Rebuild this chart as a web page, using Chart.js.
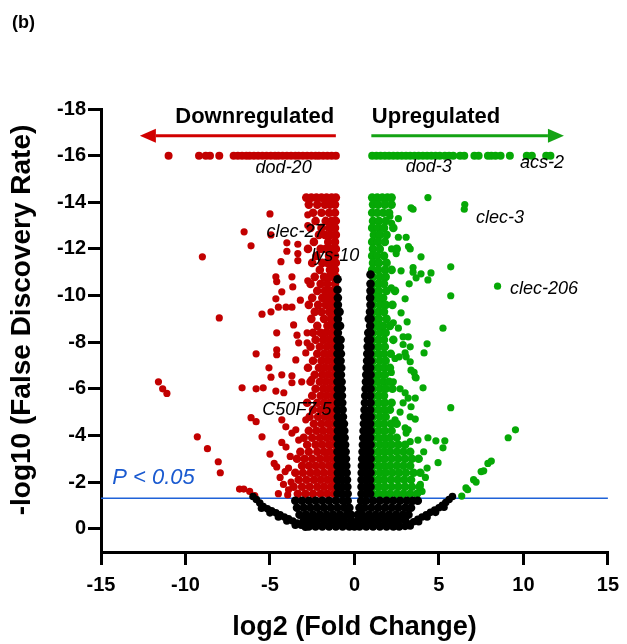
<!DOCTYPE html>
<html>
<head>
<meta charset="utf-8">
<title>Volcano plot</title>
<script src="https://cdn.jsdelivr.net/npm/chart.js"></script>
<style>
  html, body { margin: 0; padding: 0; background: #fff; }
</style>
</head>
<body>
<canvas id="volcano" width="627" height="644"></canvas>

<script>
// axis ticks
var xTicks = [-15, -10, -5, 0, 5, 10, 15];
var yTicks = [0, 2, 4, 6, 8, 10, 12, 14, 16, 18];
var fdrCutoff = 1.3; // -log10(0.05)

// genes capped at the top of the scale (y = 16)
var capY = 16;
var redCapX = [-11.0, -9.2, -8.8, -8.55, -8.0, -7.15, -6.9, -6.65, -6.4, -6.2, -5.95, -5.7, -5.45, -5.2, -4.95,
  -4.7, -4.5, -4.25, -4.0, -3.75, -3.5, -3.3, -3.05, -2.8, -2.55, -2.3, -2.1, -1.85, -1.6, -1.35, -1.1];
var greenCapX = [1.05, 1.3, 1.55, 1.8, 2.05, 2.3, 2.55, 2.8, 3.05, 3.3, 3.55, 3.8, 4.05, 4.3, 4.55, 4.8, 5.05,
  5.35, 5.6, 5.85, 6.25, 6.5, 7.1, 7.35, 7.9, 8.1, 8.35, 8.65, 9.2, 10.2, 10.5, 11.35, 11.6];

// dense part of downregulated genes: [y, [x...]]
var redRows = [
  [14.2, [-2.85, -2.55, -2.25, -1.95, -1.65, -1.35, -1.1]],
  [13.9, [-2.7, -2.2, -1.75, -1.45, -1.15]],
  [13.55, [-2.45, -1.95, -1.5, -1.15]],
  [13.2, [-2.3, -1.7, -1.35, -1.1]],
  [12.9, [-2.6, -1.95, -1.5, -1.15]],
  [12.6, [-2.1, -1.75, -1.4, -1.1]],
  [12.3, [-2.4, -1.55, -1.15]],
  [12.0, [-2.75, -2.0, -1.7, -1.35, -1.1]],
  [11.7, [-2.25, -1.5, -1.15]],
  [11.4, [-2.5, -1.9, -1.6, -1.3, -1.1]],
  [11.1, [-2.05, -1.45, -1.15]],
  [10.8, [-2.35, -1.8, -1.5, -1.25, -1.1]],
  [10.5, [-2.6, -2.0, -1.6, -1.15]],
  [10.2, [-2.2, -1.75, -1.4, -1.1]],
  [9.9, [-2.5, -1.9, -1.55, -1.2]],
  [9.6, [-2.7, -2.15, -1.7, -1.35, -1.1]],
  [9.3, [-2.35, -1.95, -1.5, -1.15]],
  [9.0, [-2.55, -1.8, -1.4, -1.1]],
  [8.7, [-2.2, -1.6, -1.25]],
  [8.4, [-2.45, -2.0, -1.7, -1.35, -1.1]],
  [8.1, [-2.3, -1.85, -1.5, -1.15]],
  [7.8, [-2.6, -2.05, -1.65, -1.3, -1.1]],
  [7.5, [-2.2, -1.8, -1.45, -1.15]],
  [7.2, [-2.45, -1.95, -1.6, -1.25, -1.1]],
  [6.9, [-2.75, -2.1, -1.75, -1.4, -1.1]],
  [6.6, [-2.35, -1.9, -1.55, -1.2]],
  [6.3, [-2.6, -2.05, -1.7, -1.35, -1.1]],
  [6.0, [-2.3, -1.85, -1.5, -1.15]],
  [5.7, [-2.5, -2.0, -1.65, -1.3, -1.1]],
  [5.4, [-2.8, -2.2, -1.8, -1.45, -1.15]],
  [5.1, [-2.45, -2.0, -1.6, -1.25, -1.1]],
  [4.8, [-2.65, -2.15, -1.75, -1.4, -1.1]],
  [4.5, [-2.4, -1.95, -1.55, -1.2]],
  [4.2, [-2.7, -2.25, -1.85, -1.45, -1.1]],
  [3.9, [-3.0, -2.5, -2.05, -1.65, -1.3, -1.1]],
  [3.6, [-2.8, -2.3, -1.9, -1.5, -1.15]],
  [3.3, [-3.2, -2.7, -2.2, -1.8, -1.45, -1.1]],
  [3.0, [-3.4, -2.95, -2.5, -2.05, -1.65, -1.3, -1.1]],
  [2.7, [-3.1, -2.7, -2.3, -1.9, -1.5, -1.15]],
  [2.4, [-3.5, -3.05, -2.6, -2.2, -1.8, -1.4, -1.1]],
  [2.1, [-3.3, -2.85, -2.4, -2.0, -1.6, -1.25]],
  [1.8, [-3.6, -3.1, -2.65, -2.2, -1.8, -1.4, -1.1]],
  [1.5, [-3.35, -2.9, -2.45, -2.0, -1.6, -1.2]]
];

// scattered downregulated genes: [x, y]
var redScatter = [
  [-5.0, 13.5], [-6.53, 12.73], [-6.12, 12.13], [-9.0, 11.66], [-4.94, 12.6], [-4.0, 12.26], [-3.35, 12.2],
  [-4.0, 11.9], [-3.35, 11.8], [-4.35, 11.45], [-3.35, 11.5], [-2.76, 13.46], [-2.76, 13.0], [-4.65, 10.8],
  [-4.6, 10.6], [-3.7, 10.8], [-3.65, 10.37], [-2.76, 10.63], [-4.3, 10.16], [-4.65, 9.86], [-3.2, 9.8],
  [-3.7, 9.5], [-4.5, 9.5], [-4.05, 9.5], [-5.47, 9.2], [-4.94, 9.3], [-8.0, 9.04], [-3.6, 8.74], [-4.6, 8.4],
  [-3.4, 8.3], [-2.8, 8.4], [-3.3, 7.97], [-2.8, 7.97], [-4.6, 7.67], [-4.6, 7.46], [-5.82, 7.5], [-3.47, 7.24],
  [-2.88, 7.54], [-5.06, 6.9], [-4.3, 6.6], [-3.7, 6.56], [-4.94, 6.5], [-3.12, 6.3], [-3.7, 6.26], [-6.65, 6.04],
  [-5.82, 6.0], [-5.4, 6.04], [-4.65, 5.9], [-4.18, 5.83], [-11.6, 6.3], [-11.35, 6.0], [-11.1, 5.8],
  [-6.12, 4.76], [-5.82, 4.59], [-4.3, 4.67], [-4.06, 4.37], [-5.47, 3.94], [-9.3, 3.94], [-8.7, 3.43],
  [-3.7, 4.1], [-3.47, 4.24], [-3.3, 3.8], [-2.88, 4.67], [-2.53, 6.4], [-8.06, 2.87], [-7.94, 2.4],
  [-6.8, 1.7], [-6.55, 1.7], [-6.2, 1.6], [-5.9, 1.42], [-5.0, 3.2], [-4.75, 2.8], [-4.6, 2.65], [-4.3, 3.7],
  [-4.05, 3.5], [-3.9, 1.67], [-4.4, 2.2], [-4.2, 1.9], [-3.9, 2.6], [-3.8, 3.1], [-4.5, 1.5], [-3.95, 1.45],
  [-4.1, 2.45], [-3.75, 2.0]
];

// dense part of upregulated genes: [y, [x...]]
var greenRows = [
  [14.2, [1.05, 1.35, 1.65, 1.95, 2.2]],
  [13.9, [1.1, 1.4, 1.8, 2.2]],
  [13.55, [1.05, 1.35, 1.7, 2.05]],
  [13.2, [1.1, 1.45, 1.85]],
  [12.9, [1.05, 1.4, 1.75, 2.3]],
  [12.6, [1.15, 1.5, 1.9]],
  [12.3, [1.05, 1.4, 1.8]],
  [12.0, [1.1, 1.5, 2.5]],
  [11.7, [1.05, 1.35, 1.75]],
  [11.4, [1.1, 1.45, 1.9]],
  [11.1, [1.05, 1.4, 1.8, 2.2]],
  [10.8, [1.1, 1.5, 1.85]],
  [10.5, [1.05, 1.4, 1.75]],
  [10.2, [1.1, 1.45, 1.9, 2.4]],
  [9.9, [1.05, 1.35, 1.7]],
  [9.6, [1.1, 1.5, 1.85, 2.25]],
  [9.3, [1.05, 1.4, 1.75]],
  [9.0, [1.1, 1.45, 1.9]],
  [8.7, [1.05, 1.35, 1.7, 2.1]],
  [8.4, [1.1, 1.5, 1.85]],
  [8.1, [1.05, 1.4, 1.75, 2.3]],
  [7.8, [1.1, 1.45, 1.8]],
  [7.5, [1.05, 1.4, 1.75, 2.15]],
  [7.2, [1.1, 1.5, 1.85]],
  [6.9, [1.05, 1.4, 1.75, 2.1]],
  [6.6, [1.1, 1.45, 1.8]],
  [6.3, [1.05, 1.35, 1.7, 2.05]],
  [6.0, [1.1, 1.5, 1.85, 2.25]],
  [5.7, [1.05, 1.4, 1.75]],
  [5.4, [1.1, 1.45, 1.8, 2.2]],
  [5.1, [1.05, 1.4, 1.75, 2.1]],
  [4.8, [1.1, 1.5, 1.85]],
  [4.5, [1.05, 1.4, 1.75, 2.15, 2.5]],
  [4.2, [1.1, 1.45, 1.8, 2.2]],
  [3.9, [1.05, 1.4, 1.75, 2.1, 2.5]],
  [3.6, [1.1, 1.5, 1.85, 2.2, 2.6, 3.0]],
  [3.3, [1.05, 1.4, 1.75, 2.1, 2.5, 2.9, 3.3]],
  [3.0, [1.1, 1.45, 1.8, 2.2, 2.6, 3.0, 3.4, 3.8]],
  [2.7, [1.05, 1.4, 1.75, 2.1, 2.5, 2.9, 3.3]],
  [2.4, [1.1, 1.5, 1.85, 2.25, 2.65, 3.05, 3.5, 3.9]],
  [2.1, [1.05, 1.4, 1.75, 2.15, 2.55, 2.95, 3.35]],
  [1.8, [1.1, 1.45, 1.8, 2.2, 2.6, 3.0, 3.4, 3.85]],
  [1.5, [1.05, 1.4, 1.75, 2.1, 2.5, 2.9, 3.3, 3.7]]
];

// scattered upregulated genes: [x, y]
var greenScatter = [
  [3.35, 13.76], [4.35, 14.2], [6.53, 13.9], [6.5, 13.7], [3.47, 13.7], [2.6, 13.3], [2.1, 13.4], [2.2, 13.1],
  [2.6, 12.5], [3.06, 12.5], [3.2, 12.1], [3.3, 12.0], [2.2, 12.0], [2.47, 11.8], [3.94, 11.66], [2.76, 11.06],
  [3.47, 11.2], [3.47, 11.0], [3.94, 10.93], [4.53, 10.97], [4.35, 10.67], [3.65, 10.76], [5.7, 11.23],
  [3.24, 10.5], [2.18, 10.33], [5.7, 9.99], [8.47, 10.4], [3.0, 9.86], [2.76, 9.26], [3.12, 8.87], [5.24, 8.6],
  [2.3, 8.83], [2.6, 8.6], [2.88, 8.23], [3.18, 8.23], [2.88, 7.9], [3.3, 7.8], [4.3, 7.93], [4.12, 7.54],
  [3.0, 7.54], [3.06, 7.37], [2.65, 7.37], [2.4, 7.3], [3.3, 7.16], [3.35, 6.8], [3.53, 6.7], [3.6, 6.5],
  [3.65, 6.47], [2.18, 6.7], [2.3, 6.3], [2.7, 6.0], [3.0, 5.83], [3.18, 5.6], [4.06, 6.04], [3.6, 5.6],
  [2.88, 5.4], [3.35, 5.23], [2.7, 5.0], [3.3, 4.8], [3.6, 4.7], [5.7, 5.19], [2.4, 4.67], [3.0, 4.33],
  [3.06, 4.1], [3.18, 4.24], [9.53, 4.24], [9.1, 3.9], [4.35, 3.9], [4.82, 3.77], [5.35, 3.77], [5.24, 3.47],
  [3.76, 3.8], [3.3, 3.73], [4.95, 2.83], [7.9, 2.8], [8.1, 2.9], [7.5, 2.45], [7.65, 2.48], [7.05, 2.1],
  [7.2, 2.0], [6.6, 1.75], [6.7, 1.67], [6.35, 1.4], [4.2, 2.2], [4.0, 1.6], [4.3, 2.6], [4.1, 3.3], [3.9, 1.9]
];

// not significant / small fold change genes: [y, [x...]]
var blackRows = [
  [10.9, [0.95]], [10.7, [-1.0]], [10.5, [0.95]], [10.25, [-1.0]], [10.2, [0.95]],
  [9.9, [-0.98, 0.93]], [9.6, [-0.98, 0.95]], [9.3, [-0.97, -0.88, 0.92]], [9.0, [-0.98, 0.85, 0.95]],
  [8.7, [-1.0, -0.85, 0.93]], [8.4, [-0.98, 0.82, 0.95]], [8.1, [-1.0, -0.82, 0.8, 0.93]],
  [7.8, [-0.98, -0.85, 0.78, 0.95]], [7.5, [-1.0, -0.8, 0.76, 0.93]], [7.2, [-0.98, -0.82, 0.75, 0.95]],
  [6.9, [-1.0, -0.78, 0.72, 0.93]], [6.6, [-0.98, -0.8, 0.7, 0.95]], [6.3, [-1.0, -0.76, 0.68, 0.93]],
  [6.0, [-0.98, -0.75, 0.66, 0.95]], [5.7, [-1.0, -0.74, 0.64, 0.93]], [5.4, [-0.98, -0.72, 0.62, 0.95]],
  [5.1, [-1.0, -0.7, 0.6, 0.93]], [4.8, [-0.98, -0.68, 0.58, 0.7, 0.95]],
  [4.5, [-1.0, -0.75, -0.62, 0.56, 0.7, 0.93]], [4.2, [-0.98, -0.72, -0.6, 0.54, 0.72, 0.95]],
  [3.9, [-1.0, -0.75, -0.58, 0.52, 0.7, 0.93]], [3.6, [-0.98, -0.74, -0.55, 0.5, 0.72, 0.95]],
  [3.3, [-1.0, -0.75, -0.52, 0.48, 0.7, 0.93]], [3.0, [-0.98, -0.72, -0.5, 0.46, 0.72, 0.95]],
  [2.7, [-1.0, -0.74, -0.48, 0.44, 0.68, 0.93]], [2.4, [-0.98, -0.72, -0.46, 0.43, 0.7, 0.95]],
  [2.1, [-1.0, -0.73, -0.44, 0.42, 0.68, 0.93]], [1.8, [-0.98, -0.7, -0.42, 0.42, 0.7, 0.95]],
  [1.5, [-1.0, -0.72, -0.4, 0.42, 0.68, 0.93]],
  [1.2, [-3.5, -3.1, -2.7, -2.3, -1.9, -1.5, -1.1, -0.7, -0.4, 0.4, 0.7, 1.1, 1.5, 1.9, 2.3, 2.7, 3.1, 3.45, 3.75]],
  [0.9, [-3.4, -3.0, -2.6, -2.2, -1.8, -1.4, -1.0, -0.6, -0.3, 0.3, 0.6, 1.0, 1.4, 1.8, 2.2, 2.6, 3.0, 3.35]],
  [0.6, [-3.25, -2.85, -2.45, -2.05, -1.65, -1.25, -0.85, -0.45, -0.2, 0.2, 0.45, 0.85, 1.25, 1.65, 2.05, 2.45, 2.85, 3.2]],
  [0.35, [-3.0, -2.6, -2.2, -1.8, -1.4, -1.0, -0.6, -0.2, 0.2, 0.6, 1.0, 1.4, 1.8, 2.2, 2.6, 3.0]],
  [0.1, [-2.7, -2.3, -1.9, -1.5, -1.1, -0.7, -0.3, 0.0, 0.3, 0.7, 1.1, 1.5, 1.9, 2.3, 2.65]]
];

// the two thin arms of the non significant bowl: [x, y]
var blackArms = [
  [-6.0, 1.38], [-5.8, 1.25], [-5.6, 1.1], [-5.4, 0.95], [-5.15, 0.85], [-4.9, 0.77], [-4.65, 0.68],
  [-4.4, 0.6], [-4.15, 0.5], [-3.9, 0.42], [-3.65, 0.33], [-3.4, 0.24], [-3.15, 0.15], [-2.9, 0.06],
  [-5.5, 0.88], [-5.0, 0.68], [-4.5, 0.5], [-4.0, 0.33], [-3.5, 0.15],
  [5.8, 1.38], [5.6, 1.25], [5.4, 1.12], [5.2, 1.0], [5.0, 0.9], [4.75, 0.8], [4.5, 0.7], [4.25, 0.6],
  [4.0, 0.5], [3.75, 0.4], [3.5, 0.3], [3.25, 0.2], [3.0, 0.1],
  [5.3, 0.92], [4.8, 0.7], [4.3, 0.5], [3.8, 0.3], [3.3, 0.12]
];

function fromRows(rows) {
  var out = [];
  rows.forEach(function (r) { r[1].forEach(function (x) { out.push({ x: x, y: r[0] }); }); });
  return out;
}
function fromPairs(pairs) {
  return pairs.map(function (p) { return { x: p[0], y: p[1] }; });
}
function fromCap(xs) {
  return xs.map(function (x) { return { x: x, y: capY }; });
}

// text + arrows drawn on top (positions in data units)
var notes = [
  { text: "dod-20", x: -5.85, y: 15.25 },
  { text: "dod-3", x: 3.03, y: 15.3 },
  { text: "acs-2", x: 9.8, y: 15.47 },
  { text: "clec-3", x: 7.2, y: 13.13 },
  { text: "clec-27", x: -5.2, y: 12.5 },
  { text: "lys-10", x: -2.56, y: 11.5 },
  { text: "clec-206", x: 9.2, y: 10.06 },
  { text: "C50F7.5", x: -5.45, y: 4.86 }
];

var FONT = "'Liberation Sans', Arial, sans-serif";
Chart.defaults.font.family = FONT;

var overlay = {
  id: "overlay",
  afterDraw: function (chart) {
    var ctx = chart.ctx, xs = chart.scales.x, ys = chart.scales.y;
    var X = function (v) { return xs.getPixelForValue(v); };
    var Y = function (v) { return ys.getPixelForValue(v); };
    ctx.save();

    // panel letter
    ctx.fillStyle = "#000";
    ctx.font = "bold 18px " + FONT;
    ctx.textAlign = "left";
    ctx.textBaseline = "alphabetic";
    ctx.fillText("(b)", 12, 28);

    // y axis title
    ctx.save();
    ctx.translate(22, 320);
    ctx.rotate(-Math.PI / 2);
    ctx.textAlign = "center";
    ctx.textBaseline = "middle";
    ctx.font = "bold 28px " + FONT;
    ctx.fillText("-log10 (False Discovery Rate)", 0, 0);
    ctx.restore();

    // direction arrows
    function arrow(x0, x1, y, color) {
      var p0 = X(x0), p1 = X(x1), py = Y(y);
      var dir = p1 > p0 ? 1 : -1, head = 16;
      ctx.strokeStyle = color;
      ctx.fillStyle = color;
      ctx.lineWidth = 3;
      ctx.beginPath();
      ctx.moveTo(p0, py);
      ctx.lineTo(p1 - dir * head, py);
      ctx.stroke();
      ctx.beginPath();
      ctx.moveTo(p1, py);
      ctx.lineTo(p1 - dir * head, py - 7);
      ctx.lineTo(p1 - dir * head, py + 7);
      ctx.closePath();
      ctx.fill();
    }
    arrow(-1.1, -12.7, 16.85, "#d10000");
    arrow(1.0, 12.4, 16.85, "#14a314");

    ctx.fillStyle = "#000";
    ctx.font = "bold 22px " + FONT;
    ctx.textAlign = "right";
    ctx.fillText("Downregulated", X(-1.2), Y(17.4));
    ctx.textAlign = "left";
    ctx.fillText("Upregulated", X(1.03), Y(17.4));

    // gene names
    ctx.font = "italic 18px " + FONT;
    notes.forEach(function (n) { ctx.fillText(n.text, X(n.x), Y(n.y)); });

    // threshold label
    ctx.fillStyle = "#1a5ad0";
    ctx.font = "italic 22px " + FONT;
    ctx.fillText("P < 0.05", X(-14.34), Y(1.9));
    ctx.restore();
  }
};

function dots(label, data, color, radius, order) {
  return {
    label: label, data: data, backgroundColor: color, order: order,
    pointRadius: radius, pointHoverRadius: radius, borderWidth: 0, pointBorderWidth: 0
  };
}

var RED = "#c20000", GREEN = "#06a806", BLACK = "#000000";

new Chart(document.getElementById("volcano").getContext("2d"), {
  type: "scatter",
  data: {
    datasets: [
      dots("NS", fromRows(blackRows), BLACK, 4.3, 1),
      dots("NS arms", fromPairs(blackArms), BLACK, 3.8, 1),
      dots("Down", fromRows(redRows), RED, 4.3, 2),
      dots("Down capped", fromCap(redCapX), RED, 4, 2),
      dots("Down other", fromPairs(redScatter), RED, 3.6, 2),
      dots("Up", fromRows(greenRows), GREEN, 4.3, 2),
      dots("Up capped", fromCap(greenCapX), GREEN, 4, 2),
      dots("Up other", fromPairs(greenScatter), GREEN, 3.6, 2),
      {
        type: "line", label: "FDR 0.05",
        data: [{ x: -15, y: fdrCutoff }, { x: 15, y: fdrCutoff }],
        borderColor: "#1f62d8", borderWidth: 1.5, pointRadius: 0, fill: false, order: 3
      }
    ]
  },
  options: {
    responsive: false,
    animation: false,
    events: [],
    layout: { padding: { left: 6, right: 17, top: 109, bottom: 0 } },
    plugins: { legend: { display: false }, tooltip: { enabled: false } },
    scales: {
      x: {
        type: "linear", min: -15, max: 15,
        afterBuildTicks: function (s) { s.ticks = xTicks.map(function (v) { return { value: v }; }); },
        afterFit: function (s) { s.height = 92; },
        grid: { drawOnChartArea: false, drawTicks: true, tickLength: 13, tickWidth: 3, lineWidth: 3, color: "#000" },
        border: { display: true, color: "#000", width: 3 },
        ticks: { color: "#000", padding: 8, font: { size: 20, weight: "bold" }, maxRotation: 0 },
        title: { display: true, text: "log2 (Fold Change)", color: "#000", padding: 0, font: { size: 27, weight: "bold" } }
      },
      y: {
        type: "linear", min: -1, max: 18,
        afterBuildTicks: function (s) { s.ticks = yTicks.map(function (v) { return { value: v }; }); },
        afterFit: function (s) { s.width = 95; },
        grid: { drawOnChartArea: false, drawTicks: true, tickLength: 13, tickWidth: 3, lineWidth: 3, color: "#000" },
        border: { display: true, color: "#000", width: 3 },
        ticks: {
          color: "#000", padding: 2, font: { size: 20, weight: "bold" },
          callback: function (v) { return v === 0 ? "0" : "-" + v; }
        },
        title: { display: false }
      }
    }
  },
  plugins: [overlay]
});
</script>
</body>
</html>
